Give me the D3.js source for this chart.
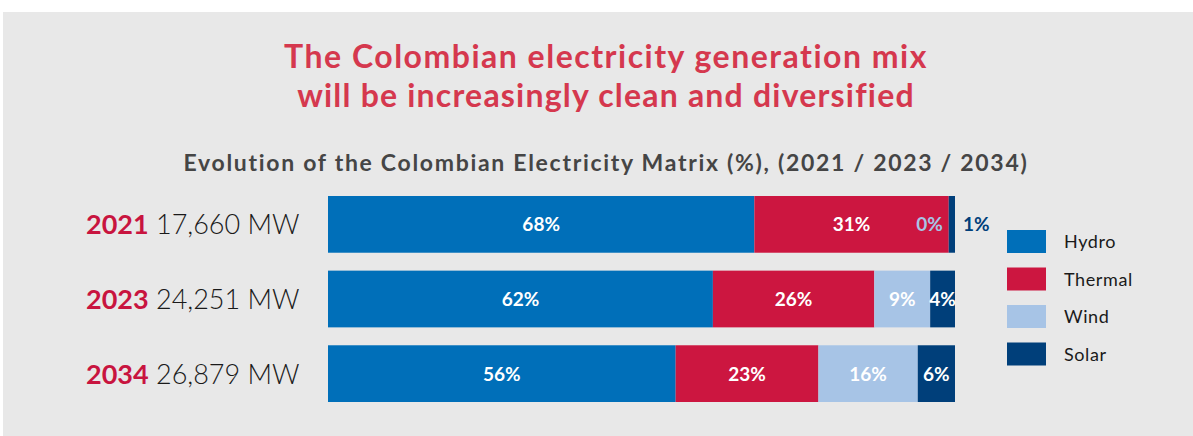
<!DOCTYPE html>
<html>
<head>
<meta charset="utf-8">
<script src="https://cdn.jsdelivr.net/npm/d3@7"></script>
<style>
  body { margin: 0; background: #fff; }
  svg text { font-family: Lato, "Open Sans", sans-serif; }
</style>
</head>
<body>
<div id="chart"></div>
<script>
// Data
var years = ["2021", "2023", "2034"];
var capacity = ["17,660 MW", "24,251 MW", "26,879 MW"];
var sources = ["Hydro", "Thermal", "Wind", "Solar"];
var hydro = [68, 62, 56];
var thermal = [31, 26, 23];
var wind = [0, 9, 16];
var solar = [1, 4, 6];
var colors = ["#006fb9", "#cc1640", "#a7c4e6", "#003f7a"];

var width = 1193, height = 436;
var margin = { left: 328, right: 238, top: 196, bottom: 34 };

var svg = d3.select("#chart").append("svg")
    .attr("width", width)
    .attr("height", height);

// panel background
svg.append("rect")
    .attr("x", 3).attr("y", 12)
    .attr("width", width - 3).attr("height", height - 12)
    .attr("fill", "#e8e8e8");

// Titles
svg.append("text")
    .attr("x", 606).attr("y", 68)
    .attr("text-anchor", "middle")
    .attr("fill", "#d5384e")
    .attr("font-size", 32).attr("font-weight", "bold")
    .attr("letter-spacing", 1.5)
    .text("The Colombian electricity generation mix");
svg.append("text")
    .attr("x", 606).attr("y", 107)
    .attr("text-anchor", "middle")
    .attr("fill", "#d5384e")
    .attr("font-size", 32).attr("font-weight", "bold")
    .attr("letter-spacing", 1.2)
    .text("will be increasingly clean and diversified");
svg.append("text")
    .attr("x", 606).attr("y", 171)
    .attr("text-anchor", "middle")
    .attr("fill", "#454545")
    .attr("font-size", 23).attr("font-weight", "bold")
    .attr("letter-spacing", 1.7)
    .text("Evolution of the Colombian Electricity Matrix (%), (2021 / 2023 / 2034)");

// Build table
var rows = years.map((y, i) => ({
    year: y, Hydro: hydro[i], Thermal: thermal[i], Wind: wind[i], Solar: solar[i]
}));

var stack = d3.stack().keys(sources).offset(d3.stackOffsetExpand);
var series = stack(rows);

var x = d3.scaleLinear().domain([0, 1]).range([margin.left, width - margin.right]);
var y = d3.scaleBand().domain(years).range([margin.top, height - margin.bottom]).paddingInner(0.24);

var color = d3.scaleOrdinal().domain(sources).range(colors);

var groups = svg.selectAll("g.series")
    .data(series)
    .enter().append("g")
    .attr("class", "series")
    .attr("fill", d => color(d.key));

groups.selectAll("rect")
    .data(d => d)
    .enter().append("rect")
    .attr("x", d => x(d[0]))
    .attr("y", d => y(d.data.year))
    .attr("width", d => x(d[1]) - x(d[0]))
    .attr("height", y.bandwidth());

// Segment labels
series.forEach(s => {
    s.forEach((d, i) => {
        var v = d.data[s.key];
        var cx = (x(d[0]) + x(d[1])) / 2;
        var t = svg.append("text")
            .attr("y", y(d.data.year) + y.bandwidth() / 2 + 7)
            .attr("font-size", 19).attr("font-weight", "bold")
            .text(v + "%");
        if (s.key == "Wind" && v == 0) {
            t.attr("x", x(d[0]) - 6).attr("text-anchor", "end").attr("fill", color("Wind"));
        } else if (s.key == "Solar" && v < 2) {
            t.attr("x", x(d[1]) + 8).attr("text-anchor", "start").attr("fill", color("Solar"));
        } else {
            t.attr("x", cx).attr("text-anchor", "middle").attr("fill", "#fff");
        }
    });
});

// Row labels
var labels = svg.selectAll("text.rowlab")
    .data(years)
    .enter().append("text")
    .attr("class", "rowlab")
    .attr("x", 86)
    .attr("y", d => y(d) + y.bandwidth() / 2 + 10)
    .attr("font-size", 27);
labels.append("tspan")
    .attr("fill", "#c8143f").attr("font-weight", "bold")
    .text(d => d);
labels.append("tspan")
    .attr("fill", "#1a1a1a").attr("font-weight", 300)
    .text((d, i) => " " + capacity[i]);

// Legend
var legend = svg.selectAll("g.legend")
    .data(sources)
    .enter().append("g")
    .attr("class", "legend")
    .attr("transform", (d, i) => "translate(1007," + (230 + i * 37.5) + ")");
legend.append("rect")
    .attr("width", 39).attr("height", 23)
    .attr("fill", d => color(d));
legend.append("text")
    .attr("x", 57).attr("y", 18)
    .attr("font-size", 18).attr("fill", "#1a1a1a")
    .attr("letter-spacing", 0.6)
    .text(d => d);
</script>
</body>
</html>
